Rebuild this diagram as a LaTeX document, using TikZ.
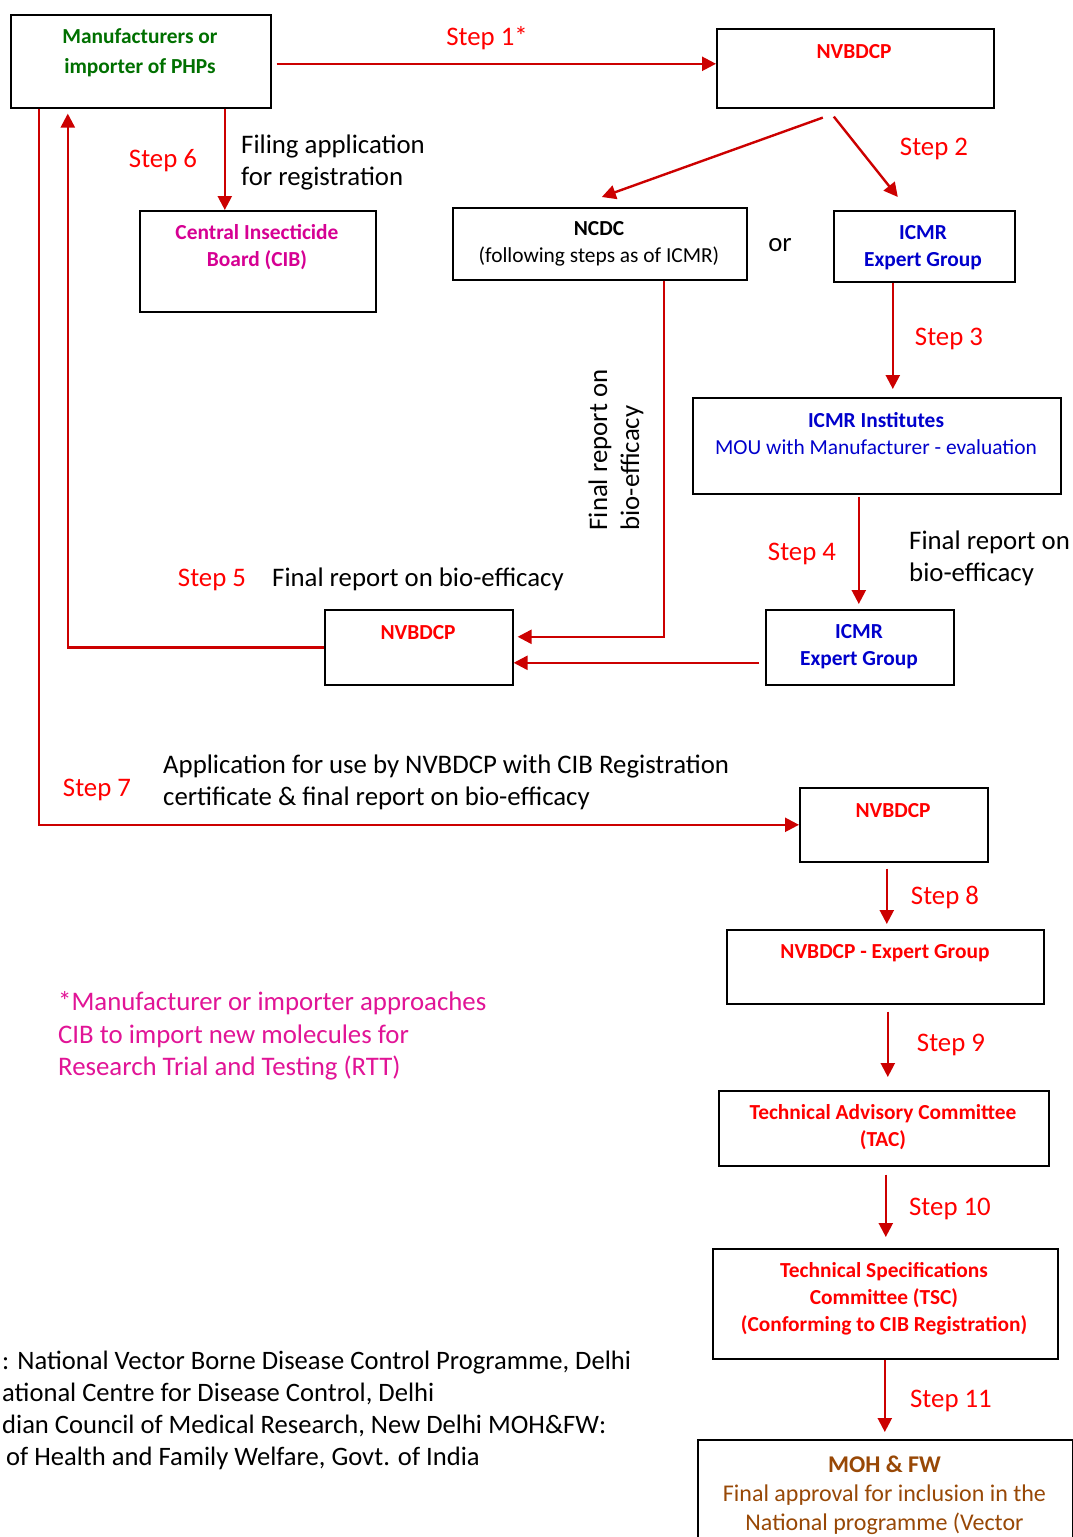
\documentclass[tikz,border=0pt]{standalone}
\usepackage{fontspec}
\setmainfont{Carlito}
\usetikzlibrary{arrows.meta}
\definecolor{arrred}{RGB}{204,0,0}
\definecolor{txtred}{RGB}{255,0,0}
\definecolor{grn}{RGB}{0,112,0}
\definecolor{mag}{RGB}{214,0,147}
\definecolor{legmag}{RGB}{225,20,150}
\definecolor{blu}{RGB}{0,0,204}
\definecolor{brn}{RGB}{152,72,6}
\tikzset{
  box/.style={draw=black, line width=1.6pt, inner sep=0pt, anchor=north west},
  bt/.style={font=\fontsize{21.4}{27}\selectfont\bfseries, inner sep=0pt, align=center},
  rt/.style={font=\fontsize{21.4}{27}\selectfont, inner sep=0pt, align=center},
  lab/.style={font=\fontsize{26.8}{32}\selectfont, inner sep=0pt, align=left},
  steplab/.style={lab, text=txtred},
  arr/.style={draw=arrred, line width=2.4pt, -{Triangle[length=14pt,width=14pt]}}
}
\begin{document}
\begin{tikzpicture}[x=1pt,y=-1pt]
\useasboundingbox (0,0) rectangle (1073,1537);
\fill[white] (0,0) rectangle (1073,1537);
% boxes
\node[box, minimum width=260pt, minimum height=93pt] (man) at (10,14) {};
\node[box, minimum width=277pt, minimum height=79pt] (nv1) at (716,28) {};
\node[box, minimum width=236pt, minimum height=101pt] (cib) at (139,210) {};
\node[box, minimum width=294pt, minimum height=72pt] (ncdc) at (452,207) {};
\node[box, minimum width=181pt, minimum height=71pt] (ieg1) at (833,210) {};
\node[box, minimum width=368pt, minimum height=96pt] (inst) at (692,397) {};
\node[box, minimum width=188pt, minimum height=75pt] (nv2) at (324,609) {};
\node[box, minimum width=188pt, minimum height=75pt] (ieg2) at (765,609) {};
\node[box, minimum width=188pt, minimum height=74pt] (nv3) at (799,787) {};
\node[box, minimum width=317pt, minimum height=74pt] (neg) at (726,929) {};
\node[box, minimum width=330pt, minimum height=75pt] (tac) at (718,1090) {};
\node[box, minimum width=345pt, minimum height=110pt] (tsc) at (712,1248) {};
\node[box, minimum width=375pt, minimum height=160pt] (moh) at (697,1439) {};
% box texts
\node[bt, text=grn, font=\fontsize{21.4}{30}\selectfont\bfseries] (mant) at (140,53) {Manufacturers or\\importer of PHPs};
\node[bt, text=txtred] (nv1t) at (854,52) {NVBDCP};
\node[bt, text=mag] (cibt) at (257,247.5) {Central Insecticide\\Board (CIB)};
\node[rt] (ncdct) at (599,244) {\bfseries NCDC\\(following steps as of ICMR)};
\node[bt, text=blu] (ieg1t) at (923,247.5) {ICMR\\Expert Group};
\node[rt, text=blu] (instt) at (876,433.5) {\bfseries ICMR Institutes\\MOU with Manufacturer - evaluation};
\node[bt, text=txtred] (nv2t) at (418,633) {NVBDCP};
\node[bt, text=blu] (ieg2t) at (859,646.5) {ICMR\\Expert Group};
\node[bt, text=txtred] (nv3t) at (893,811) {NVBDCP};
\node[bt, text=txtred] (negt) at (885,953) {NVBDCP - Expert Group};
\node[bt, text=txtred] (tact) at (883,1127) {Technical Advisory Committee\\(TAC)};
\node[bt, text=txtred] (tsct) at (884,1298.5) {Technical Specifications\\Committee (TSC)\\(Conforming to CIB Registration)};
\node[rt, text=brn, font=\fontsize{24}{29}\selectfont, anchor=north] (moht) at (884.5,1456) {\bfseries MOH \& FW\\Final approval for inclusion in the\\National programme (Vector};
% connectors
\draw[arr] ([xshift=5pt,yshift=-2.5pt]man.east) -- ([yshift=4.5pt]nv1.west);
\draw[arr] ([xshift=84pt]man.south) -- ([xshift=-33pt]cib.north);
\draw[arr] ([xshift=-32.5pt,yshift=-9pt]nv1.south) -- ([xshift=2pt,yshift=10pt]ncdc.north);
\draw[arr] ([xshift=-21.5pt,yshift=-8pt]nv1.south) -- ([xshift=-26.5pt,yshift=13pt]ieg1.north);
\draw[arr] ([xshift=-31.5pt]ieg1.south) -- ([xshift=16pt,yshift=8pt]inst.north);
\draw[arr] ([xshift=-18pt,yshift=-2pt]inst.south) -- ([xshift=-1pt,yshift=5pt]ieg2.north);
\draw[arr] ([xshift=64pt]ncdc.south) |- ([xshift=4pt,yshift=10.5pt]nv2.east);
\draw[arr] ([xshift=-6pt,yshift=-15.5pt]ieg2.west) -- ([yshift=-15.5pt]nv2.east);
\draw[arr] (nv2.west) -| ([xshift=-73pt,yshift=-5pt]man.south);
\draw[arr] ([xshift=-102pt]man.south) |- (nv3.west);
\draw[arr] ([xshift=-7pt,yshift=-6pt]nv3.south) -- ([xshift=1.5pt,yshift=5pt]neg.north);
\draw[arr] ([xshift=2.5pt,yshift=-7pt]neg.south) -- ([xshift=4pt,yshift=13pt]tac.north);
\draw[arr] ([xshift=2pt,yshift=-8pt]tac.south) -- ([xshift=0.5pt,yshift=11pt]tsc.north);
\draw[arr] ([xshift=-0.5pt]tsc.south) -- ([xshift=-0.5pt,yshift=7pt]moh.north);
% labels
\node[steplab] (s1) at (487,38) {Step 1*};
\node[steplab] (s6) at (163,161) {Step 6};
\node[lab, anchor=west] (filing) at (241,162) {Filing application\\for registration};
\node[steplab] (s2) at (934,149) {Step 2};
\node[lab] (or) at (780,245) {or};
\node[steplab] (s3) at (949,339) {Step 3};
\node[lab, rotate=90] (ncdcrep) at (616,450) {Final report on\\bio-efficacy};
\node[steplab] (s4) at (802,554) {Step 4};
\node[lab, anchor=west] (icmrrep) at (909,558) {Final report on\\bio-efficacy};
\node[steplab] (s5) at (212,580) {Step 5};
\node[lab, anchor=west] (nvrep) at (272,579) {Final report on bio-efficacy};
\node[steplab] (s7) at (97,790) {Step 7};
\node[lab, anchor=west] (appl) at (163,782) {Application for use by NVBDCP with CIB Registration\\certificate \& final report on bio-efficacy};
\node[steplab] (s8) at (945,897) {Step 8};
\node[steplab] (s9) at (951,1045) {Step 9};
\node[steplab] (s10) at (950,1209) {Step 10};
\node[steplab] (s11) at (951,1401) {Step 11};
\node[lab, text=legmag, anchor=west, font=\fontsize{26.8}{32.5}\selectfont] (legend) at (58,1036) {*Manufacturer or importer approaches\\CIB to import new molecules for\\Research Trial and Testing (RTT)};
\node[lab, anchor=west, font=\fontsize{26.6}{32}\selectfont] (abbr) at (2,1410) {: National Vector Borne Disease Control Programme, Delhi\\ational Centre for Disease Control, Delhi\\dian Council of Medical Research, New Delhi MOH\&FW:\\\hspace*{4pt}of Health and Family Welfare, Govt. of India};
\end{tikzpicture}
\end{document}
